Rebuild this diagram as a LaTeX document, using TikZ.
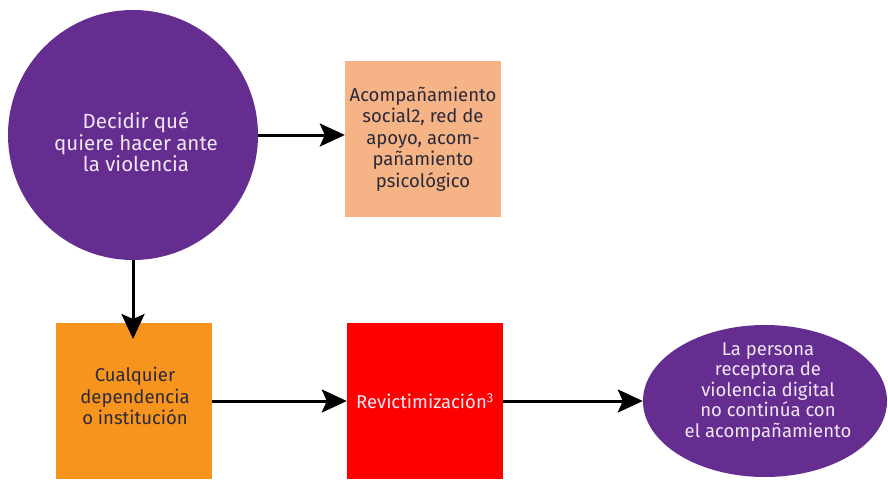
\documentclass[tikz,border=0pt]{standalone}
\usepackage{fontspec}
\setmainfont{Fira Sans}
\usetikzlibrary{arrows.meta,shapes.geometric}
\definecolor{purp}{HTML}{652D90}
\definecolor{peach}{HTML}{F5B386}
\definecolor{orng}{HTML}{F7941E}
\definecolor{darktxt}{HTML}{2A2A3A}
\definecolor{lighttxt}{HTML}{F0E6F5}
\tikzset{
  box/.style={minimum width=156pt,minimum height=156pt,inner sep=0pt,align=center,font=\fontsize{18.5}{21.5}\selectfont},
  conn/.style={line width=3pt,-{Stealth[length=25pt,width=23pt,inset=5pt]}},
  lbl/.style={align=center,inner sep=0pt}
}
\begin{document}
\begin{tikzpicture}[x=1pt,y=-1pt]
\useasboundingbox (0,0) rectangle (888,479);
\node[circle,fill=purp,minimum size=250pt,inner sep=0pt] (dec) at (133,135) {};
\node[lbl,text=lighttxt,font=\fontsize{20.5}{21.5}\selectfont] (dectext) at (136,142) {Decidir qué\\quiere hacer ante\\la violencia};
\node[box,fill=peach,text=darktxt] (acom) at (423,139) {Acompañamiento\\social2, red de\\apoyo, acom-\\pañamiento\\psicológico};
\node[box,fill=orng] (cual) at (134,401) {};
\node[lbl,text=darktxt,font=\fontsize{18.5}{21.5}\selectfont] (cualtext) at (135,396) {Cualquier\\dependencia\\o institución};
\node[box,fill=red,text=lighttxt] (revi) at (425,401) {Revictimización\textsuperscript{3}};
\node[ellipse,fill=purp,minimum width=244pt,minimum height=152pt,inner sep=0pt] (pers) at (765,401) {};
\node[lbl,text=lighttxt,font=\fontsize{18.5}{20.5}\selectfont] (perstext) at (768,392) {La persona\\receptora de\\violencia digital\\no continúa con\\el acompañamiento};
\coordinate (downtip) at (133,339);
\draw[conn] (dec.east) -- (dec.east -| acom.west);
\draw[conn] (dec.south) -- (downtip);
\draw[conn] (cual.east) -- (revi.west);
\draw[conn] (revi.east) -- (pers.west);
\end{tikzpicture}
\end{document}
